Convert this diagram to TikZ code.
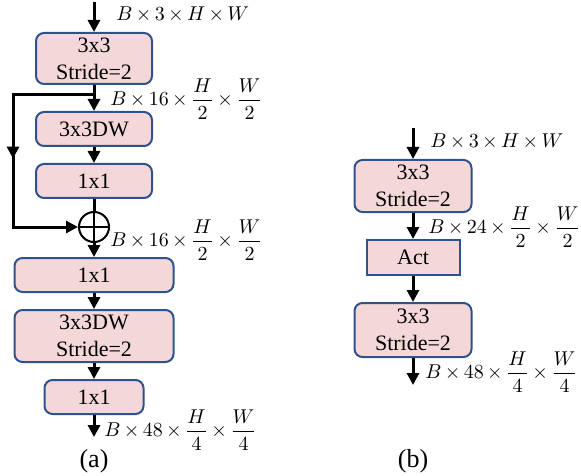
\documentclass[tikz,border=0pt]{standalone}
\usepackage{amsmath}
\usepackage{fontspec}
\setmainfont{Liberation Serif}
\usetikzlibrary{arrows.meta,decorations.markings}
\definecolor{blockfill}{HTML}{F4D7D8}
\definecolor{blockline}{HTML}{2F528F}
\medmuskip=3mu\relax
\begin{document}
\begin{tikzpicture}[x=0.5pt, y=-0.5pt, every node/.style={font=\fontsize{11}{13.5}\selectfont},
  block/.style={draw=blockline, line width=1pt, fill=blockfill, rounded corners=4pt, align=center, inner sep=0pt},
  flow/.style={line width=1.5pt, -{Triangle[length=6pt,width=6pt]}},
  dims/.style={anchor=west, inner sep=0pt, font=\fontsize{9.6}{11}\selectfont}]
\useasboundingbox (0,0) rectangle (581,475);
% (a) downsampling block with shortcut
\node[block, minimum width=58pt, minimum height=25.5pt] (a1) at (94,58.5) {3x3\\Stride=2};
\node[block, minimum width=58pt, minimum height=17pt] (a2) at (94,129) {3x3DW};
\node[block, minimum width=58pt, minimum height=17pt] (a3) at (94,181) {1x1};
\node[circle, draw, line width=1pt, minimum size=15pt, inner sep=0pt] (add) at (94,227) {};
\draw[line width=1pt] (add.north) -- (add.south) (add.west) -- (add.east);
\node[block, minimum width=79.5pt, minimum height=17pt] (a4) at (94,275) {1x1};
\node[block, minimum width=79.5pt, minimum height=26pt] (a5) at (94,336) {3x3DW\\Stride=2};
\node[block, minimum width=49.5pt, minimum height=17pt] (a6) at (94,397) {1x1};
\coordinate (ain) at (94,2);
\coordinate (aout) at (94,437);
\coordinate (split) at (94,95);
\coordinate (side) at (13,95);
\draw[flow] (ain) -- (a1);
\draw[flow] (a1) -- (a2);
\draw[flow] (a2) -- (a3);
\draw[line width=1.5pt] (a3) -- (add);
\draw[flow] (add) -- (a4);
\draw[flow] (a4) -- (a5);
\draw[flow] (a5) -- (a6);
\draw[flow] (a6) -- (aout);
\draw[line width=1.5pt, line join=miter, -{Triangle[length=6pt,width=6pt]},
  postaction={decorate, decoration={markings, mark=at position 0.52 with {\arrow{Triangle[length=6pt,width=6pt]}}}}]
  (split) -- (side) |- (add.west);
\node[dims] at (116,15) {$B\times3\times H\times W$};
\node[dims] at (110,99) {$B\times16\times\dfrac{H}{2}\times\dfrac{W}{2}$};
\node[dims] at (110,240) {$B\times16\times\dfrac{H}{2}\times\dfrac{W}{2}$};
\node[dims] at (104,430) {$B\times48\times\dfrac{H}{4}\times\dfrac{W}{4}$};
\node[font=\fontsize{13}{15}\selectfont] (capa) at (94,461) {(a)};
% (b) plain stem
\node[block, minimum width=58.5pt, minimum height=26pt] (b1) at (413,186) {3x3\\Stride=2};
\node[block, rounded corners=0pt, minimum width=46.5pt, minimum height=17.5pt] (b2) at (413,257.5) {Act};
\node[block, minimum width=58.5pt, minimum height=27pt] (b3) at (413,330) {3x3\\Stride=2};
\coordinate (bin) at (413,128);
\coordinate (bout) at (413,385);
\draw[flow] (bin) -- (b1);
\draw[flow] (b1) -- (b2);
\draw[flow] (b2) -- (b3);
\draw[flow] (b3) -- (bout);
\node[dims] at (430,142) {$B\times3\times H\times W$};
\node[dims] at (428,227) {$B\times24\times\dfrac{H}{2}\times\dfrac{W}{2}$};
\node[dims] at (425,372) {$B\times48\times\dfrac{H}{4}\times\dfrac{W}{4}$};
\node[font=\fontsize{13}{15}\selectfont] (capb) at (413,461) {(b)};
\end{tikzpicture}
\end{document}
